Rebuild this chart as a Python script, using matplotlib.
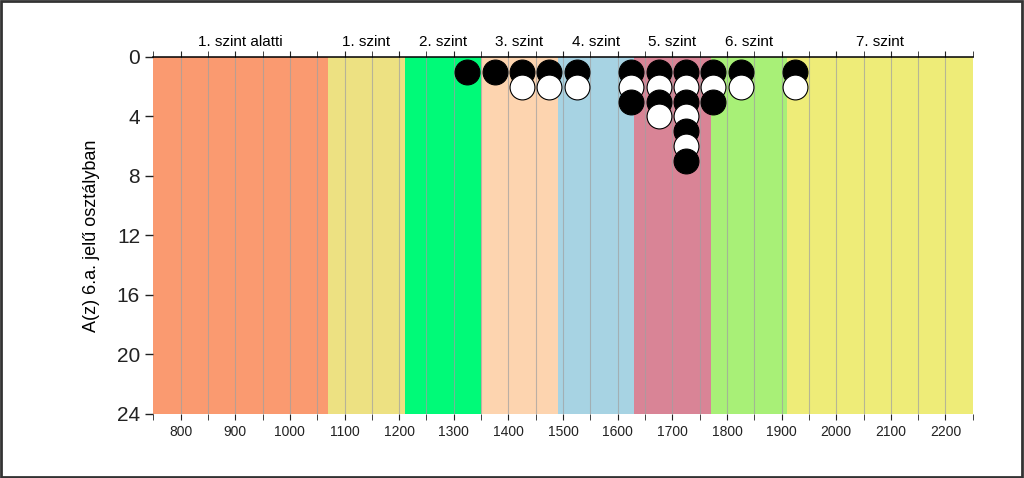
import matplotlib
matplotlib.use("Agg")
from matplotlib import pyplot as plt
from matplotlib.patches import Rectangle

plt.rcParams['font.family'] = ['Liberation Sans', 'DejaVu Sans']

# score bands (level, start, end, color)
band_labels = ['1. szint alatti', '1. szint', '2. szint', '3. szint', '4. szint',
               '5. szint', '6. szint', '7. szint']
band_edges = [750, 1070, 1210, 1350, 1490, 1630, 1770, 1910, 2250]
band_colors = ['#FA9A70', '#EDE182', '#00FA78', '#FDD4AF', '#A7D3E3',
               '#D98496', '#A8F077', '#EEEC78']

# students per score bin
bin_centers = [1325, 1375, 1425, 1475, 1525, 1625, 1675, 1725, 1775, 1825, 1925]
bin_counts = [1, 1, 2, 2, 2, 3, 4, 7, 3, 2, 2]

fig = plt.figure(figsize=(10.24, 4.78), dpi=100)
ax = fig.add_axes([0.1497, 0.134, 0.8003, 0.7468])

for i in range(len(band_labels)):
    ax.axvspan(band_edges[i], band_edges[i + 1], color=band_colors[i], lw=0, zorder=0)
    ax.text((band_edges[i] + band_edges[i + 1]) / 2, -0.55, band_labels[i],
            ha='center', va='bottom', fontsize=11)

# vertical grid every 50
for x in range(800, 2250, 50):
    ax.axvline(x, color='#a0a0a0', lw=0.8, alpha=0.7, zorder=1)

for xc, n in zip(bin_centers, bin_counts):
    for k in range(1, n + 1):
        fc = 'black' if k % 2 == 1 else 'white'
        ax.scatter(xc, k, s=320, facecolor=fc, edgecolor='black', linewidth=0.8,
                   zorder=3 + k, clip_on=False)

ax.set_xlim(750, 2250)
ax.set_ylim(24, 0)
ax.set_yticks(range(0, 25, 4))
ax.set_xticks(range(800, 2201, 100))
ax.set_xticks(range(750, 2251, 50), minor=True)
ax.tick_params(axis='y', labelsize=15, length=6, width=1, colors='#222222')
ax.tick_params(axis='x', which='both', top=True, bottom=True, length=4,
               labelsize=10, colors='#222222', pad=4)
for s in ['left', 'right', 'bottom']:
    ax.spines[s].set_visible(False)
ax.spines['top'].set_linewidth(1.1)
ax.set_ylabel('A(z) 6.a. jelű osztályban', fontsize=13, labelpad=12)

fig.patches.append(Rectangle((0.001, 0.002), 0.997, 0.995, transform=fig.transFigure,
                             fill=False, edgecolor='#333333', lw=2))

fig.savefig('out.png', dpi=100)
